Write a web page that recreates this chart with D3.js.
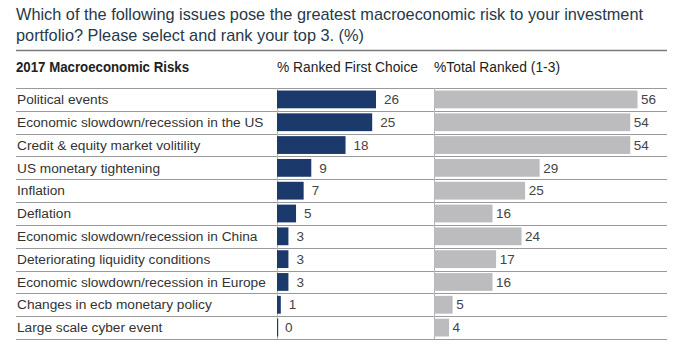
<!DOCTYPE html>
<html><head><meta charset="utf-8">
<script src="https://cdn.jsdelivr.net/npm/d3@7"></script>
<style>
html,body{margin:0;padding:0;background:#fff;}
svg{display:block;}
</style></head>
<body>
<script>
const titleLines = ["Which of the following issues pose the greatest macroeconomic risk to your investment",
                    "portfolio? Please select and rank your top 3. (%)"];
const headers = ["2017 Macroeconomic Risks", "% Ranked First Choice", "%Total Ranked (1-3)"];
const categories = ["Political events","Economic slowdown/recession in the US","Credit & equity market volitility",
  "US monetary tightening","Inflation","Deflation","Economic slowdown/recession in China",
  "Deteriorating liquidity conditions","Economic slowdown/recession in Europe","Changes in ecb monetary policy",
  "Large scale cyber event"];
const firstChoice = [26,25,18,9,7,5,3,3,3,1,0];
const totalRanked = [56,54,54,29,25,16,24,17,16,5,4];

const W = 684, H = 356;
const svg = d3.select("body").append("svg").attr("width", W).attr("height", H);

const left = 16, right = 667;
const y = d3.scaleBand().domain(categories).range([88, 339]).paddingInner(0.22).paddingOuter(0.11);
const x1 = d3.scaleLinear().domain([0, 26]).range([277, 376]);
const x2 = d3.scaleLinear().domain([0, 56]).range([434, 637]);

// Title
const tfont = "'Liberation Sans Narrow','Arial Narrow','Liberation Sans',sans-serif";
const tg = svg.append("g");
const t1 = tg.append("text").attr("x", left).attr("y", 20).text(titleLines[0]);
const t2 = tg.append("text").attr("x", left).attr("y", 41).text(titleLines[1]);
tg.selectAll("text").attr("font-family", tfont).attr("font-size", 17).attr("fill", "#27394a");
const L1 = t1.node().getComputedTextLength();
const r = 627 / L1;
const L2 = t2.node().getComputedTextLength();
t1.attr("textLength", 627).attr("lengthAdjust", "spacingAndGlyphs");
t2.attr("textLength", L2 * r).attr("lengthAdjust", "spacingAndGlyphs");

// rules
svg.append("line").attr("x1", left).attr("x2", right).attr("y1", 50.5).attr("y2", 50.5)
  .attr("stroke", "#7a7a7a").attr("stroke-width", 1.3);
const bounds = d3.range(categories.length + 1).map(i => 88 + i * (339 - 88) / categories.length);
svg.append("g").selectAll("line").data(bounds).join("line")
  .attr("x1", left).attr("x2", right).attr("y1", d => Math.round(d) + 0.5).attr("y2", d => Math.round(d) + 0.5)
  .attr("stroke", "#9a9a9a").attr("stroke-width", 1);

// headers
const hfont = "'Liberation Sans Narrow','Liberation Sans',sans-serif";
const hx = [left, 277, 434], hw = [173, 141, 126];
svg.append("g").selectAll("text").data(headers).join("text")
  .attr("x", (d, i) => hx[i]).attr("y", 72)
  .attr("font-family", hfont).attr("font-size", 14)
  .attr("font-weight", (d, i) => i === 0 ? "bold" : "normal")
  .attr("fill", "#222")
  .attr("textLength", (d, i) => hw[i]).attr("lengthAdjust", "spacingAndGlyphs")
  .text(d => d);

// vertical baselines
[x1(0), x2(0)].forEach(xx => {
  svg.append("line").attr("x1", xx + 0.5).attr("x2", xx + 0.5).attr("y1", 88).attr("y2", 339)
    .attr("stroke", "#b5b5b5").attr("stroke-width", 1);
});

// labels
svg.append("g").selectAll("text").data(categories).join("text")
  .attr("x", left + 1).attr("y", d => y(d) + y.bandwidth() / 2 + 4.7)
  .attr("font-family", "'Liberation Sans',Arial,sans-serif").attr("font-size", 13.7)
  .attr("fill", "#333").text(d => d);

// blue bars
svg.append("g").selectAll("rect").data(firstChoice).join("rect")
  .attr("x", x1(0)).attr("y", (d, i) => y(categories[i]))
  .attr("width", d => Math.max(1.2, x1(d) - x1(0))).attr("height", y.bandwidth())
  .attr("fill", "#1b3a6b");
svg.append("g").selectAll("text").data(firstChoice).join("text")
  .attr("x", d => x1(d) + 8).attr("y", (d, i) => y(categories[i]) + y.bandwidth() / 2 + 4.7)
  .attr("font-family", "'Liberation Sans',Arial,sans-serif").attr("font-size", 13.5)
  .attr("fill", "#444").text(d => d);

// grey bars
svg.append("g").selectAll("rect").data(totalRanked).join("rect")
  .attr("x", x2(0) + 0.5).attr("y", (d, i) => y(categories[i]))
  .attr("width", d => x2(d) - x2(0)).attr("height", y.bandwidth())
  .attr("fill", "#bcbcbf");
svg.append("g").selectAll("text").data(totalRanked).join("text")
  .attr("x", d => x2(d) + 4).attr("y", (d, i) => y(categories[i]) + y.bandwidth() / 2 + 4.7)
  .attr("font-family", "'Liberation Sans',Arial,sans-serif").attr("font-size", 13.5)
  .attr("fill", "#444").text(d => d);
</script>
</body></html>
